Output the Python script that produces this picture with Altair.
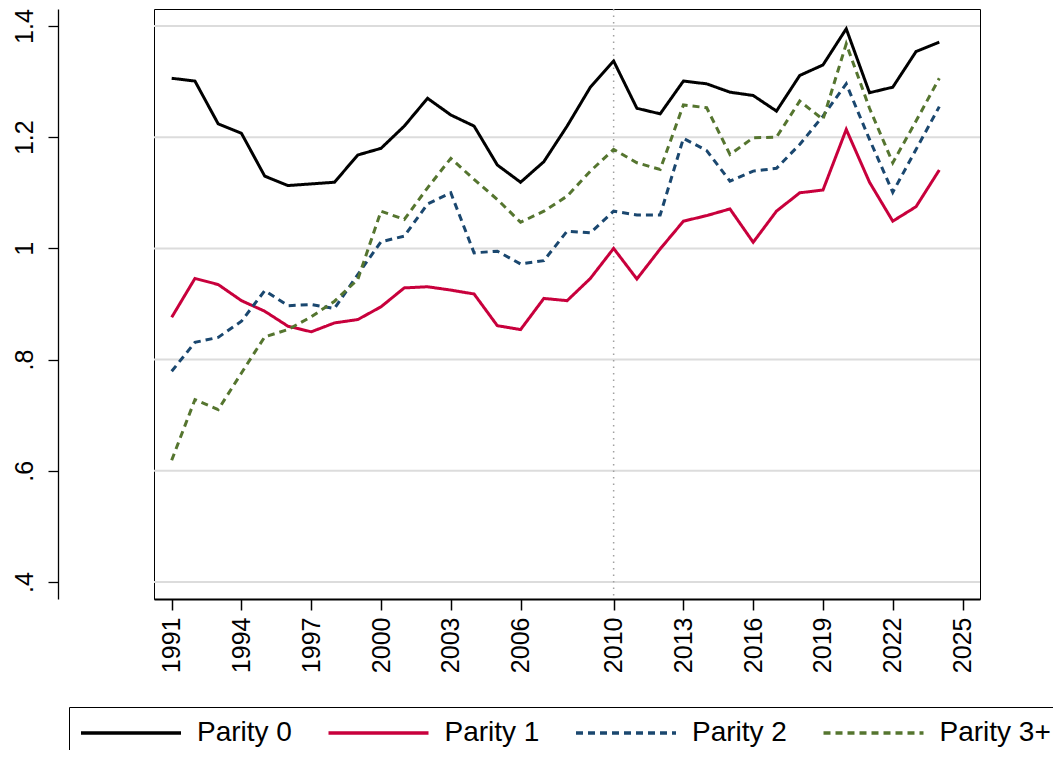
import altair as alt
import pandas as pd

years = list(range(1991, 2025))

parity0 = [1.306, 1.301, 1.224, 1.207, 1.130, 1.113, 1.116, 1.119, 1.168, 1.180,
           1.220, 1.270, 1.240, 1.220, 1.150, 1.119, 1.156, 1.220, 1.290, 1.337,
           1.252, 1.242, 1.301, 1.296, 1.281, 1.275, 1.247, 1.311, 1.330, 1.395,
           1.280, 1.290, 1.354, 1.371]
parity1 = [0.876, 0.946, 0.935, 0.906, 0.887, 0.860, 0.850, 0.866, 0.872, 0.895,
           0.929, 0.931, 0.925, 0.918, 0.861, 0.854, 0.910, 0.906, 0.946, 1.000,
           0.945, 0.999, 1.049, 1.059, 1.071, 1.011, 1.067, 1.100, 1.105, 1.214,
           1.119, 1.049, 1.075, 1.141]
parity2 = [0.779, 0.831, 0.840, 0.869, 0.924, 0.897, 0.899, 0.892, 0.953, 1.012,
           1.022, 1.080, 1.100, 0.992, 0.995, 0.972, 0.978, 1.031, 1.028, 1.067,
           1.060, 1.060, 1.198, 1.176, 1.121, 1.139, 1.144, 1.187, 1.238, 1.296,
           1.196, 1.101, 1.178, 1.255]
parity3 = [0.619, 0.728, 0.710, 0.776, 0.841, 0.854, 0.877, 0.905, 0.944, 1.067,
           1.052, 1.109, 1.162, 1.124, 1.088, 1.047, 1.067, 1.094, 1.139, 1.178,
           1.154, 1.142, 1.258, 1.253, 1.169, 1.199, 1.200, 1.265, 1.232, 1.368,
           1.252, 1.154, 1.229, 1.306]

series_names = ["Parity 0", "Parity 1", "Parity 2", "Parity 3+"]
series_colors = ["#000000", "#C8003C", "#1A476F", "#55752F"]
series_dashes = [[1, 0], [1, 0], [7, 5], [7, 5]]

x_ticks = [1991, 1994, 1997, 2000, 2003, 2006, 2010, 2013, 2016, 2019, 2022, 2025]
y_ticks = [0.4, 0.6, 0.8, 1.0, 1.2, 1.4]
ref_year = [2010]

rows = []
for name, vals in zip(series_names, [parity0, parity1, parity2, parity3]):
    for yr, v in zip(years, vals):
        rows.append({"year": yr, "value": v, "series": name})
df = pd.DataFrame(rows)

FONT = "Liberation Sans"

xscale = alt.Scale(domain=[1990.24, 2025.75], nice=False, zero=False)
yscale = alt.Scale(domain=[0.3694, 1.4306], nice=False, zero=False)

x_axis = alt.Axis(values=x_ticks, format="d", labelAngle=270, labelAlign="right",
                  labelBaseline="middle", labelFontSize=25, labelFont=FONT,
                  labelColor="black", labelPadding=7, tickSize=11, tickWidth=1.5,
                  tickColor="black", domainColor="black", domainWidth=2,
                  grid=False, title=None, labelFlush=False, labelOverlap=False)

y_axis = alt.Axis(values=y_ticks, labelAngle=270, labelAlign="center",
                  labelBaseline="bottom", labelFontSize=25, labelFont=FONT,
                  labelColor="black", labelPadding=11, tickSize=10, tickWidth=1.3,
                  tickColor="black", domainColor="black", domainWidth=1.3,
                  offset=96, grid=False, title=None, labelFlush=False,
                  labelOverlap=False,
                  labelExpr="datum.value >= 1 ? format(datum.value, '.1~f') : '.' + format(datum.value * 10, '.0f')")

grid = alt.Chart(pd.DataFrame({"value": y_ticks})).mark_rule(
    color="#DCDCDC", strokeWidth=2
).encode(y=alt.Y("value:Q", scale=yscale, axis=y_axis))

vline = alt.Chart(pd.DataFrame({"year": ref_year})).mark_rule(
    color="#A0A0A0", strokeWidth=1.5, strokeDash=[1.5, 5]
).encode(x=alt.X("year:Q", scale=xscale, axis=x_axis))

legend = alt.Legend(orient="none", legendX=-85, legendY=698, direction="horizontal",
                    symbolType="M-1.4,0H8.6", symbolSize=400, symbolStrokeWidth=3.5,
                    labelFontSize=28, labelFont=FONT, labelColor="black",
                    labelOffset=88, columnPadding=29.5, padding=12,
                    strokeColor="black", labelLimit=400)

lines = alt.Chart(df).mark_line(strokeWidth=3).encode(
    x=alt.X("year:Q", scale=xscale, axis=x_axis),
    y=alt.Y("value:Q", scale=yscale, axis=y_axis),
    color=alt.Color("series:N", title=None,
                    scale=alt.Scale(domain=series_names, range=series_colors),
                    legend=legend),
    strokeDash=alt.StrokeDash("series:N", title=None,
                              scale=alt.Scale(domain=series_names, range=series_dashes),
                              legend=legend),
)

chart = alt.layer(grid, vline, lines).properties(
    width=826, height=590,
    autosize=alt.AutoSizeParams(type="none"),
    padding={"left": 146, "top": 1, "right": 73, "bottom": 151},
    background="white",
).configure(font=FONT).configure_view(stroke="black", strokeWidth=1)

chart.save("out.html", embed_options={"renderer": "svg", "actions": False})
